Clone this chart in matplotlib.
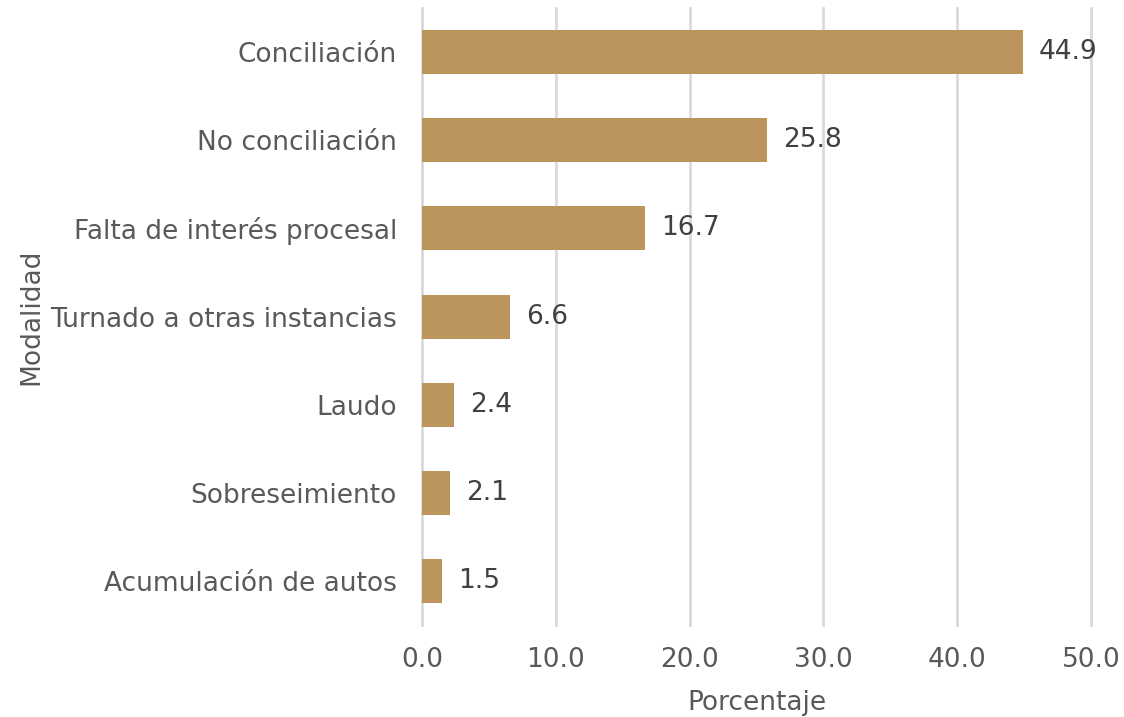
import matplotlib.pyplot as plt
import numpy as np

# datos
modalidades = ['Conciliación', 'No conciliación', 'Falta de interés procesal',
               'Turnado a otras instancias', 'Laudo', 'Sobreseimiento',
               'Acumulación de autos']
porcentajes = [44.9, 25.8, 16.7, 6.6, 2.4, 2.1, 1.5]
ticks_x = [0, 10, 20, 30, 40, 50]

plt.rcParams['font.family'] = ['DejaVu Sans']
fs = 19

fig = plt.figure(figsize=(11.24, 7.17), dpi=100)
ax = fig.add_axes([0.3754, 0.128, 0.5952, 0.861])

y = np.arange(len(modalidades))
ax.barh(y, porcentajes, height=0.5, color='#BC955C', zorder=3)

# etiquetas de valor
for yi, v in zip(y, porcentajes):
    ax.text(v + 1.2, yi, f'{v:.1f}', va='center', ha='left',
            fontsize=fs, color='#404040')

ax.set_ylim(len(modalidades) - 0.5, -0.5)
ax.set_xlim(0, 50)
ax.set_yticks(y)
ax.set_yticklabels(modalidades, fontsize=fs, color='#595959')
ax.set_xticks(ticks_x)
ax.set_xticklabels([f'{t:.1f}' for t in ticks_x], fontsize=fs, color='#595959')
ax.tick_params(axis='x', length=0, pad=16)
ax.tick_params(axis='y', length=0, pad=18)

ax.grid(axis='x', color='#D9D9D9', linewidth=2, zorder=0)
for gl in ax.get_xgridlines():
    gl.set_clip_on(False)
for s in ax.spines.values():
    s.set_visible(False)

ax.set_xlabel('Porcentaje', fontsize=fs, color='#595959', labelpad=12)
ax.set_ylabel('Modalidad', fontsize=fs, color='#595959', labelpad=4)

fig.savefig('out.png', dpi=100)
